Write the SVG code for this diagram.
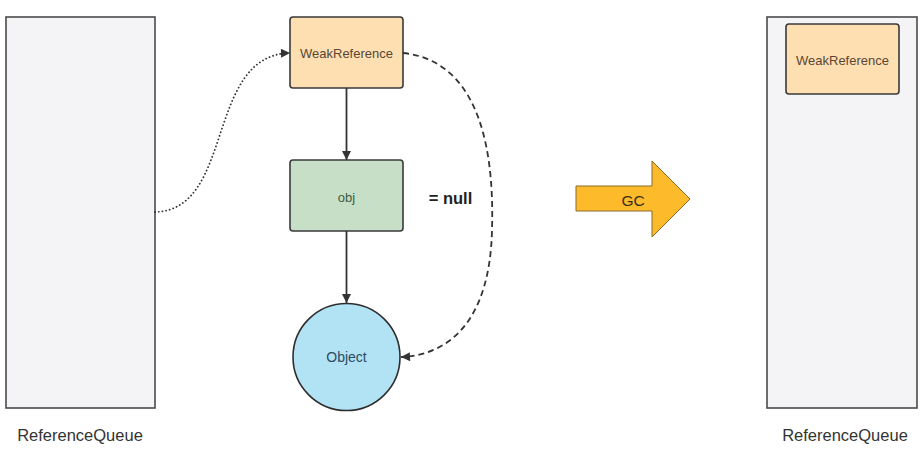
<svg xmlns="http://www.w3.org/2000/svg" width="924" height="449" viewBox="0 0 924 449">
<style>
.queue{fill:#f4f4f6;stroke:#4a4a4a;stroke-width:1.6}
.weak{fill:#fedfb2;stroke:#3a3a3a;stroke-width:1.6}
.obj{fill:#c7dfc6;stroke:#3a3a3a;stroke-width:1.6}
.circ{fill:#b2e3f4;stroke:#2e2e2e;stroke-width:1.6}
.t{font-family:"Liberation Sans",Arial,sans-serif;text-anchor:middle}
.lbl{font-size:16.5px;fill:#333}
.conn{fill:none;stroke:#333;stroke-width:1.8}
</style>
<defs>
<marker id="ah" viewBox="0 0 10 10" refX="10" refY="5" markerWidth="11" markerHeight="9" markerUnits="userSpaceOnUse" orient="auto">
<path d="M0,0 L10,5 L0,10 z" fill="#333"/>
</marker>
</defs>
<rect width="924" height="449" fill="#fff"/>
<g id="queue-left">
<rect class="queue" x="6" y="17" width="149" height="391"/>
<text class="t lbl" x="80" y="441">ReferenceQueue</text>
</g>
<g id="queue-right">
<rect class="queue" x="767" y="17" width="150" height="391"/>
<text class="t lbl" x="845" y="441">ReferenceQueue</text>
</g>
<g id="weakref-right">
<rect class="weak" x="786" y="24" width="113" height="70" rx="3"/>
<text class="t" x="842.5" y="65" font-size="13" fill="#5a4632">WeakReference</text>
</g>
<g id="weakref">
<rect class="weak" x="290" y="17" width="113" height="71" rx="3"/>
<text class="t" x="346.5" y="58" font-size="13" fill="#5a4632">WeakReference</text>
</g>
<g id="obj">
<rect class="obj" x="290" y="160" width="113" height="71" rx="3"/>
<text class="t" x="346.5" y="202" font-size="13" fill="#3f5a3f">obj</text>
</g>
<g id="object">
<circle class="circ" cx="346.5" cy="357" r="53.5"/>
<text class="t" x="346.5" y="362" font-size="14" fill="#2d4a60">Object</text>
</g>
<g id="null-label">
<text class="t" x="450.5" y="204" font-size="16.5" font-weight="bold" fill="#222">= null</text>
</g>
<g id="gc">
<path d="M576,186 L652,186 L652,161 L690,199 L652,237 L652,211 L576,211 z" fill="#fdbb2c" stroke="#8a6a2a" stroke-width="1"/>
<text class="t" x="633" y="206" font-size="15.5" fill="#3a2e1a">GC</text>
</g>
<g id="connectors">
<path class="conn" d="M346.5,88 L346.5,160" marker-end="url(#ah)"/>
<path class="conn" d="M346.5,231 L346.5,303" marker-end="url(#ah)"/>
<path class="conn" d="M155,212 C235,210 205,55 290,53" stroke-dasharray="0.1,3.6" stroke-linecap="round" stroke-width="2.2" marker-end="url(#ah)"/>
<path class="conn" d="M403,53 C470,60 495,130 492,230 C490,320 450,355 401,357" stroke-dasharray="6,4" marker-end="url(#ah)"/>
</g>
</svg>
